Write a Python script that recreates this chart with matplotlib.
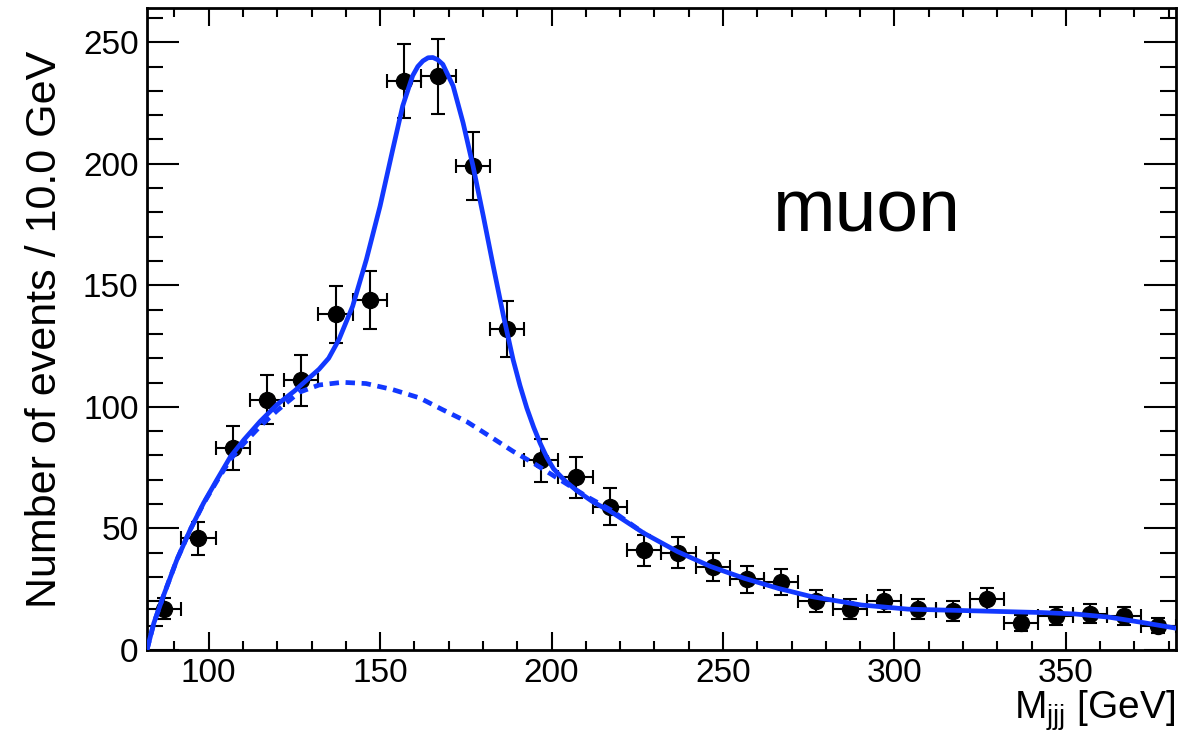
import numpy as np
import matplotlib
matplotlib.use('Agg')
import matplotlib.pyplot as plt
from matplotlib.ticker import MultipleLocator

plt.rcParams['font.family'] = ['Liberation Sans', 'DejaVu Sans']
plt.rcParams['mathtext.fontset'] = 'custom'
plt.rcParams['mathtext.rm'] = 'Liberation Sans'

# data points (bin centres, 10 GeV bins)
mass = [87, 97, 107, 117, 127, 137, 147, 157, 167, 177, 187, 197, 207, 217, 227,
        237, 247, 257, 267, 277, 287, 297, 307, 317, 327, 337, 347, 357, 367, 377]
counts = [17, 46, 83, 103, 111, 138, 144, 234, 236, 199, 132, 78, 71, 59, 41,
          40, 34, 29, 28, 20, 17, 20, 17, 16, 21, 11, 14, 15, 14, 10]
count_err = [4.3, 6.8, 9.1, 10.1, 10.5, 11.7, 12.0, 15.3, 15.4, 14.1, 11.5, 8.8, 8.4, 7.7, 6.4,
             6.3, 5.8, 5.4, 5.3, 4.5, 4.1, 4.5, 4.1, 4.0, 4.6, 3.3, 3.7, 3.9, 3.7, 3.2]
bin_half = 5

# total fit (signal + background)
fit_x = [82, 84, 87, 90.7, 94.6, 98.5, 102.4, 106.4, 110.3, 115, 120, 125, 129.8, 132.2,
         135, 138, 142, 146, 150, 153.7, 156.6, 159.5, 161, 162.5, 164, 165.4, 166.8, 168.3,
         171.3, 174.2, 177.1, 180.1, 183, 186, 188.8, 190.8, 192.8, 194.8, 196.7, 198.6,
         200.6, 204, 207.4, 212, 217.2, 227, 236.7, 246.5, 256.2, 266, 275.7, 284.5, 290.4,
         304, 323.5, 343, 352.8, 362.6, 372.4, 382]
fit_y = [0, 11, 23, 37, 49.4, 60.4, 70, 79.6, 86.5, 94, 101, 106.5, 112.5, 115.5,
         120, 127.7, 141.4, 160.6, 182.6, 205.9, 223.8, 236.2, 240, 242.3, 243.6, 243.7, 242.8, 240.9,
         232, 216.9, 199.1, 178.5, 157.9, 137.3, 119.4, 108.8, 99.5, 91.6, 85, 79.3,
         74.5, 69.5, 65.5, 61, 57, 48, 40.5, 34.3, 29.5, 25.4, 22, 19.9, 18.5,
         16.8, 16.1, 15.4, 14.8, 13.5, 11.3, 9]

# background component
bkg_x = [82, 84, 87, 90.7, 94.6, 98.5, 102.4, 106.4, 110.3, 115, 120, 126.4, 132.2, 139,
         145.9, 153.7, 161.5, 168.3, 175.2, 182, 188.8, 194.7, 202.5, 210.3, 217.2, 227]
bkg_y = [0, 11, 23, 37, 49.4, 60.2, 69.5, 78.5, 85, 92, 98.5, 106, 109, 110.1,
         109.6, 107.1, 103.7, 98.8, 94, 87.9, 81.7, 76.9, 70, 63.1, 57.7, 48]

blue = '#1238ff'

fig = plt.figure(figsize=(11.85, 7.42), dpi=100)
ax = fig.add_axes([0.124, 0.124, 0.868, 0.865])

ax.errorbar(mass, counts, yerr=count_err, xerr=bin_half, fmt='o', color='black',
            markersize=11.5, elinewidth=1.5, capsize=5, capthick=1.5, zorder=2)
ax.plot(bkg_x, bkg_y, color=blue, lw=3.4, linestyle=(0, (2.0, 1.4)), zorder=3)
ax.plot(fit_x, fit_y, color=blue, lw=3.4, zorder=4, solid_joinstyle='round')

ax.text(292, 172, 'muon', fontsize=54, ha='center', va='baseline')

ax.set_xlim(82, 382)
ax.set_ylim(0, 264)
ax.xaxis.set_major_locator(MultipleLocator(50))
ax.xaxis.set_minor_locator(MultipleLocator(10))
ax.yaxis.set_major_locator(MultipleLocator(50))
ax.yaxis.set_minor_locator(MultipleLocator(10))

ax.tick_params(which='both', direction='in', top=True, right=True, width=1.5,
               labelsize=24)
ax.tick_params(axis='x', which='major', length=13, pad=6)
ax.tick_params(axis='x', which='minor', length=6.5)
ax.tick_params(axis='y', which='major', length=23, pad=6)
ax.tick_params(axis='y', which='minor', length=11.5)
for s in ax.spines.values():
    s.set_linewidth(2)

ax.set_ylabel('Number of events / 10.0 GeV', fontsize=31)
ax.yaxis.set_label_coords(-0.08, 0.5)
ax.set_xlabel(r'M$_{\mathrm{jjj}}$ [GeV]', fontsize=28, loc='right')
ax.xaxis.set_label_coords(1.0, -0.06)

fig.savefig('out.png', dpi=100)
